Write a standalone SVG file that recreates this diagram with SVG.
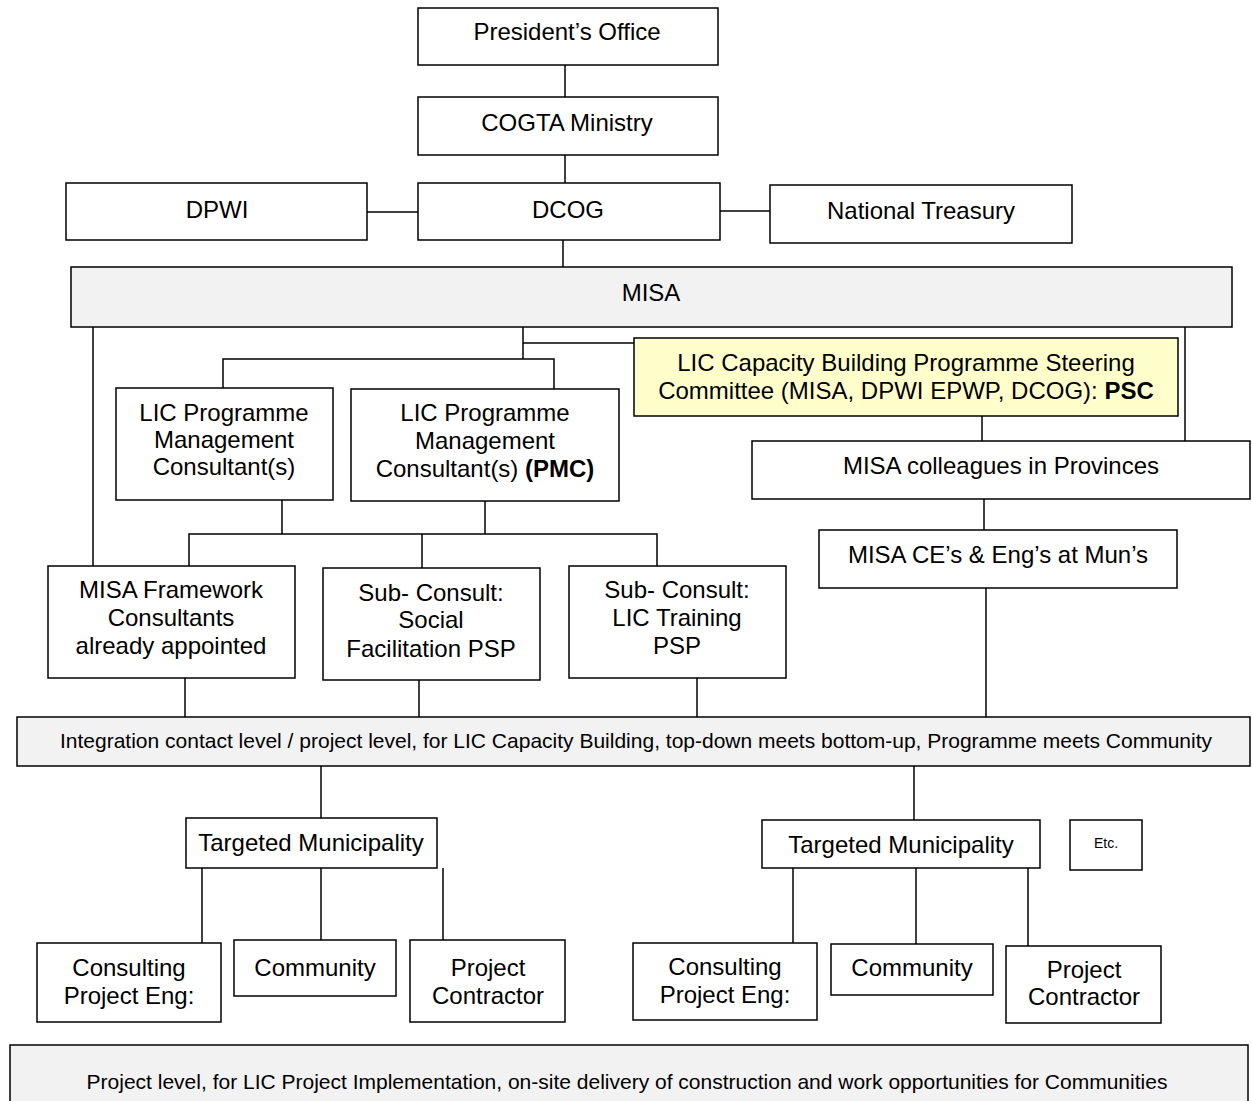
<svg xmlns="http://www.w3.org/2000/svg" width="1252" height="1101" viewBox="0 0 1252 1101">
<style>
.box{fill:#ffffff;stroke:#000000;stroke-width:1.5}
.grey{fill:#f2f2f2;stroke:#000000;stroke-width:1.5}
.yel{fill:#ffffcc;stroke:#000000;stroke-width:1.5}
.t{font-family:"Liberation Sans",Arial,sans-serif;font-size:24px;fill:#000;text-anchor:middle}
.s{font-family:"Liberation Sans",Arial,sans-serif;font-size:21px;fill:#000;text-anchor:middle}
.e{font-family:"Liberation Sans",Arial,sans-serif;font-size:14px;fill:#000;text-anchor:middle}
.b{font-weight:bold}
#connectors line,#connectors polyline{stroke:#000;stroke-width:1.5;fill:none}
</style>
<rect width="1252" height="1101" fill="#ffffff"/>
<g id="connectors">
<line x1="565" y1="65" x2="565" y2="97"/>
<line x1="565" y1="155" x2="565" y2="183"/>
<line x1="367" y1="212" x2="418" y2="212"/>
<line x1="720" y1="211" x2="770" y2="211"/>
<line x1="563" y1="240" x2="563" y2="267"/>
<line x1="93" y1="327" x2="93" y2="566"/>
<line x1="523" y1="327" x2="523" y2="359"/>
<line x1="523" y1="343" x2="634" y2="343"/>
<polyline points="223,388 223,359 554,359 554,389"/>
<line x1="1185" y1="327" x2="1185" y2="441"/>
<line x1="982" y1="416" x2="982" y2="441"/>
<line x1="984" y1="499" x2="984" y2="530"/>
<line x1="282" y1="500" x2="282" y2="534"/>
<line x1="485" y1="501" x2="485" y2="534"/>
<polyline points="189,566 189,534 657,534 657,566"/>
<line x1="422" y1="534" x2="422" y2="568"/>
<line x1="185" y1="678" x2="185" y2="717"/>
<line x1="419" y1="680" x2="419" y2="717"/>
<line x1="697" y1="678" x2="697" y2="717"/>
<line x1="986" y1="588" x2="986" y2="717"/>
<line x1="321" y1="766" x2="321" y2="818"/>
<line x1="914" y1="766" x2="914" y2="820"/>
<line x1="202" y1="868" x2="202" y2="943"/>
<line x1="321" y1="868" x2="321" y2="940"/>
<line x1="443" y1="868" x2="443" y2="940"/>
<line x1="793" y1="868" x2="793" y2="943"/>
<line x1="916" y1="868" x2="916" y2="944"/>
<line x1="1028" y1="868" x2="1028" y2="946"/>
</g>
<g id="presidents-office"><rect class="box" x="418" y="8" width="300" height="57"/><text class="t" x="567" y="40">President’s Office</text></g>
<g id="cogta"><rect class="box" x="418" y="97" width="300" height="58"/><text class="t" x="567" y="131">COGTA Ministry</text></g>
<g id="dpwi"><rect class="box" x="66" y="183" width="301" height="57"/><text class="t" x="217" y="218">DPWI</text></g>
<g id="dcog"><rect class="box" x="418" y="183" width="302" height="57"/><text class="t" x="568" y="218">DCOG</text></g>
<g id="treasury"><rect class="box" x="770" y="185" width="302" height="58"/><text class="t" x="921" y="219">National Treasury</text></g>
<g id="misa"><rect class="grey" x="71" y="267" width="1161" height="60"/><text class="t" x="651" y="301">MISA</text></g>
<g id="psc"><rect class="yel" x="634" y="338" width="544" height="78"/><text class="t" x="906" y="371">LIC Capacity Building Programme Steering</text><text class="t" x="906" y="399">Committee (MISA, DPWI EPWP, DCOG): <tspan class="b">PSC</tspan></text></g>
<g id="pmc-left"><rect class="box" x="116" y="388" width="217" height="112"/><text class="t" x="224" y="421">LIC Programme</text><text class="t" x="224" y="448">Management</text><text class="t" x="224" y="475">Consultant(s)</text></g>
<g id="pmc"><rect class="box" x="351" y="389" width="268" height="112"/><text class="t" x="485" y="421">LIC Programme</text><text class="t" x="485" y="449">Management</text><text class="t" x="485" y="477">Consultant(s) <tspan class="b">(PMC)</tspan></text></g>
<g id="misa-provinces"><rect class="box" x="752" y="441" width="498" height="58"/><text class="t" x="1001" y="474">MISA colleagues in Provinces</text></g>
<g id="misa-ce"><rect class="box" x="819" y="530" width="358" height="58"/><text class="t" x="998" y="563">MISA CE’s &amp; Eng’s at Mun’s</text></g>
<g id="framework"><rect class="box" x="48" y="566" width="247" height="112"/><text class="t" x="171" y="598">MISA Framework</text><text class="t" x="171" y="626">Consultants</text><text class="t" x="171" y="654">already appointed</text></g>
<g id="social"><rect class="box" x="323" y="568" width="217" height="112"/><text class="t" x="431" y="601">Sub- Consult:</text><text class="t" x="431" y="628">Social</text><text class="t" x="431" y="657">Facilitation PSP</text></g>
<g id="training"><rect class="box" x="569" y="566" width="217" height="112"/><text class="t" x="677" y="598">Sub- Consult:</text><text class="t" x="677" y="626">LIC Training</text><text class="t" x="677" y="654">PSP</text></g>
<g id="integration"><rect class="grey" x="17" y="717" width="1233" height="49"/><text class="s" x="636" y="748">Integration contact level / project level, for LIC Capacity Building, top-down meets bottom-up, Programme meets Community</text></g>
<g id="tm1"><rect class="box" x="186" y="818" width="251" height="50"/><text class="t" x="311" y="851">Targeted Municipality</text></g>
<g id="tm2"><rect class="box" x="762" y="820" width="278" height="48"/><text class="t" x="901" y="853">Targeted Municipality</text></g>
<g id="etc"><rect class="box" x="1070" y="820" width="72" height="50"/><text class="e" x="1106" y="848">Etc.</text></g>
<g id="cpe1"><rect class="box" x="37" y="943" width="184" height="79"/><text class="t" x="129" y="976">Consulting</text><text class="t" x="129" y="1004">Project Eng:</text></g>
<g id="community1"><rect class="box" x="234" y="940" width="162" height="56"/><text class="t" x="315" y="976">Community</text></g>
<g id="pc1"><rect class="box" x="410" y="940" width="155" height="82"/><text class="t" x="488" y="976">Project</text><text class="t" x="488" y="1004">Contractor</text></g>
<g id="cpe2"><rect class="box" x="633" y="943" width="184" height="77"/><text class="t" x="725" y="975">Consulting</text><text class="t" x="725" y="1003">Project Eng:</text></g>
<g id="community2"><rect class="box" x="831" y="944" width="162" height="51"/><text class="t" x="912" y="976">Community</text></g>
<g id="pc2"><rect class="box" x="1006" y="946" width="155" height="77"/><text class="t" x="1084" y="978">Project</text><text class="t" x="1084" y="1005">Contractor</text></g>
<g id="project-level"><rect class="grey" x="10" y="1045" width="1238" height="60"/><text class="s" x="627" y="1089">Project level, for LIC Project Implementation, on-site delivery of construction and work opportunities for Communities</text></g>
</svg>
